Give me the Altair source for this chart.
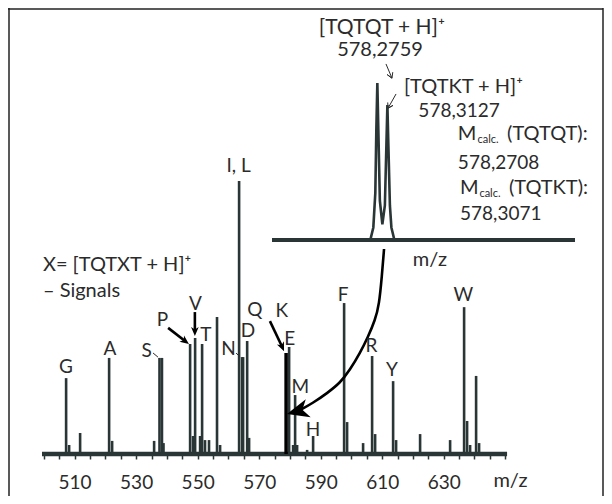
import altair as alt
import pandas as pd

DARK = "#2a3535"
TXT = "#2b2b2b"
FONT = "Lato"

# ---------------- main spectrum (m/z, relative intensity) ----------------
peak_mz = [507.24, 508.22, 511.79, 521.22, 522.2, 535.85, 537.6, 538.4, 538.9,
           547.55, 548.5, 549.18, 550.8, 551.45, 552.4, 553.7, 556.3, 557.3,
           563.48, 564.46, 564.78, 566.1, 566.73, 579.74, 581.04, 581.69,
           582.34, 585.59, 587.54, 597.62, 598.59, 603.79, 606.72, 607.7,
           613.55, 614.52, 622.32, 632.08, 636.63, 637.6, 638.58, 640.53, 641.5]
peak_int = [27.8, 3.3, 7.7, 35.2, 4.8, 4.8, 35.2, 35.2, 4.0,
            40.3, 6.6, 42.5, 6.6, 40.3, 5.1, 5.1, 50.2, 3.3,
            100.0, 35.5, 35.5, 41.4, 5.9, 39.2, 3.3, 21.6,
            3.3, 1.5, 6.6, 55.3, 11.7, 4.0, 35.9, 7.3,
            26.7, 5.1, 7.3, 5.1, 53.8, 12.1, 3.3, 28.6, 4.0]
q_mz = [578.76]
q_int = [37.0]

spec_start, spec_end = 499.4, 650.6
X_DOMAIN = [499.4, 681.46]
Y_DOMAIN = [0, 163.4]

tick_values = list(range(500, 651, 5))
tick_labels = [510, 530, 550, 570, 590, 610, 630]

# peak letters
lab_text = ["G", "A", "S", "P", "V", "T", "I, L", "N", "D", "Q", "K", "E", "M", "H", "F", "R", "Y", "W"]
lab_mz = [507.2, 521.5, 533.4, 538.6, 549.3, 552.7, 563.3, 560.0, 566.4, 568.6, 577.4, 579.9, 583.4, 587.5, 597.3, 606.5, 613.2, 636.4]
lab_int = [31.9, 38.5, 37.7, 49.1, 54.9, 43.6, 105.5, 38.6, 44.9, 52.6, 52.4, 42.1, 24.4, 8.8, 58.2, 39.4, 30.8, 58.2]

# small connector strokes (S, N)
conn_id = ["S", "S", "N", "N"]
conn_mz = [535.5, 537.1, 562.5, 563.8]
conn_int = [37.0, 35.5, 37.0, 35.5]

# thick arrows (P, V, K): shaft tail -> head centre
arr_id = ["P", "P", "V", "V", "K", "K"]
arr_mz = [540.4, 546.0, 549.1, 549.1, 573.5, 577.5]
arr_int = [46.2, 41.3, 52.0, 44.9, 48.7, 39.2]
head_mz = [546.0, 549.1, 577.5, 582.5]
head_int = [41.3, 44.9, 39.2, 15.7]
head_ang = [36.9, 90, 66.5, 164.8]
head_size = [81, 81, 81, 484]

# curved arrow from the inset to the Q/K peak
curve_mz = [610.6, 609.9, 609.0, 607.7, 605.4, 602.8, 599.5, 596.3, 592.1, 587.5, 583.3]
curve_int = [75.1, 65.2, 54.6, 49.1, 42.9, 37.0, 30.8, 26.0, 22.3, 18.7, 16.1]

# thin arrows inside the inset (tail, tip, wing, tip, wing)
thin_id = ["a"] * 5 + ["b"] * 5
thin_mz = [611.23, 613.18, 611.62, 613.18, 613.44, 614.5, 611.9, 613.5, 611.9, 611.8]
thin_int = [142.9, 137.7, 139.0, 137.7, 139.9, 131.9, 126.7, 127.7, 126.7, 128.8]

# centred annotation texts
ctext = ["[TQTQT + H]⁺", "578,2759", "[TQTKT + H]⁺", "578,3127", "m/z"]
ctext_mz = [609.9, 609.3, 636.4, 635.0, 625.5]
ctext_int = [156.0, 148.0, 134.3, 125.7, 71.1]
ctext_size = [21, 20, 20, 19, 20]

# left-aligned annotation texts
ltext = ["X= [TQTXT + H]⁺", "– Signals", "M", "(TQTQT):", "578,2708", "M", "(TQTKT):", "578,3071"]
ltext_mz = [499.7, 499.7, 634.6, 650.6, 634.6, 635.3, 651.2, 635.3]
ltext_int = [69.2, 59.7, 117.2, 117.2, 106.6, 97.4, 97.4, 87.9]
ltext_size = [20, 20, 20, 20, 19, 20, 20, 19]

sub_text = ["calc.", "calc."]
sub_mz = [641.0, 641.6]
sub_int = [114.9, 95.1]

# ---------------- inset (high resolution) ----------------
inset_mz = [577.89, 578.2501, 578.2612, 578.2685, 578.2722, 578.2759, 578.2796, 578.2851,
            578.2943, 578.3035, 578.3090, 578.3127, 578.3164, 578.3219, 578.3274, 578.3384, 579.0]
inset_int = [0, 0, 8, 30, 70, 100, 70, 25, 10, 22, 60, 86, 60, 22, 8, 0, 0]

# ---------------- build ----------------
xs = alt.Scale(domain=X_DOMAIN, nice=False, zero=False)
ys = alt.Scale(domain=Y_DOMAIN, nice=False, zero=False)

expr = f"indexof({tick_labels}, datum.value) >= 0 ? datum.label : ''"
main_axis = alt.Axis(values=tick_values, labelExpr=expr, format="d", domain=False,
                     ticks=True, tickSize=5, tickWidth=1.5, tickColor=DARK, grid=False,
                     labelFont=FONT, labelFontSize=19, labelColor=TXT, labelPadding=14,
                     labelOverlap=False, labelFlush=False,
                     title="m/z", titleFont=FONT, titleFontSize=20, titleFontWeight="normal",
                     titleColor=TXT, titleX=468, titleY=16, titleBaseline="top",
                     titleAlign="center", titleAngle=0)


def X(f):
    return alt.X(f, type="quantitative", scale=xs, axis=main_axis)


def Y(f):
    return alt.Y(f, type="quantitative", scale=ys, axis=None)


base_df = pd.DataFrame({"x": [spec_start], "x2": [spec_end], "y": [0]})
baseline = alt.Chart(base_df).mark_rule(color=DARK, strokeWidth=4.5).encode(
    x=X("x"), x2="x2", y=Y("y"))

pk = pd.DataFrame({"mz": peak_mz, "i": peak_int, "z": [0] * len(peak_mz)})
sticks = alt.Chart(pk).mark_rule(color=DARK, strokeWidth=2.6).encode(x=X("mz"), y=Y("z"), y2="i")

qk = pd.DataFrame({"mz": q_mz, "i": q_int, "z": [0]})
qstick = alt.Chart(qk).mark_rule(color="#000000", strokeWidth=3.5).encode(x=X("mz"), y=Y("z"), y2="i")

labs = alt.Chart(pd.DataFrame({"t": lab_text, "mz": lab_mz, "i": lab_int})).mark_text(
    font=FONT, fontSize=19, color=TXT, align="center", baseline="middle").encode(
    x=X("mz"), y=Y("i"), text="t")

conn = alt.Chart(pd.DataFrame({"g": conn_id, "mz": conn_mz, "i": conn_int})).mark_line(
    color=TXT, strokeWidth=1).encode(x=X("mz"), y=Y("i"), detail="g")

arrows = alt.Chart(pd.DataFrame({"g": arr_id, "mz": arr_mz, "i": arr_int})).mark_line(
    color="#000000", strokeWidth=2.6).encode(x=X("mz"), y=Y("i"), detail="g")

heads = alt.Chart(pd.DataFrame({"mz": head_mz, "i": head_int, "a": head_ang, "s": head_size})).mark_point(
    shape="M1,0L-1,-0.85L-0.45,0L-1,0.85Z", filled=True, color="#000000", opacity=1).encode(
    x=X("mz"), y=Y("i"), angle=alt.Angle("a:Q", scale=None), size=alt.Size("s:Q", scale=None))

curve = alt.Chart(pd.DataFrame({"mz": curve_mz, "i": curve_int, "o": list(range(len(curve_mz)))})).mark_line(
    color="#000000", strokeWidth=2.6, interpolate="basis").encode(x=X("mz"), y=Y("i"), order="o")

thin = alt.Chart(pd.DataFrame({"g": thin_id, "mz": thin_mz, "i": thin_int, "o": list(range(len(thin_mz)))})).mark_line(
    color=TXT, strokeWidth=1).encode(x=X("mz"), y=Y("i"), detail="g", order="o")

ct = alt.Chart(pd.DataFrame({"t": ctext, "mz": ctext_mz, "i": ctext_int, "s": ctext_size})).mark_text(
    font=FONT, color=TXT, align="center", baseline="middle").encode(
    x=X("mz"), y=Y("i"), text="t", size=alt.Size("s:Q", scale=None))

lt = alt.Chart(pd.DataFrame({"t": ltext, "mz": ltext_mz, "i": ltext_int, "s": ltext_size})).mark_text(
    font=FONT, color=TXT, align="left", baseline="middle").encode(
    x=X("mz"), y=Y("i"), text="t", size=alt.Size("s:Q", scale=None))

st = alt.Chart(pd.DataFrame({"t": sub_text, "mz": sub_mz, "i": sub_int})).mark_text(
    font=FONT, fontSize=11, color=TXT, align="left", baseline="middle").encode(
    x=X("mz"), y=Y("i"), text="t")

dummy = pd.DataFrame({"a": [0]})
frame_left = alt.Chart(dummy).mark_rule(color="#222222", strokeWidth=1.5).encode(
    x=alt.value(-33), y=alt.value(0), y2=alt.value(490))
frame_top = alt.Chart(dummy).mark_rule(color="#222222", strokeWidth=1.5).encode(
    x=alt.value(-34), x2=alt.value(561), y=alt.value(1))
frame_right = alt.Chart(dummy).mark_rule(color="#222222", strokeWidth=1.5).encode(
    x=alt.value(561), y=alt.value(0), y2=alt.value(490))

main = alt.layer(baseline, sticks, qstick, conn, arrows, heads, curve, thin,
                 labs, ct, lt, st, frame_left, frame_top, frame_right)

ixs = alt.Scale(domain=[577.89, 579.0], range=[230, 533], nice=False, zero=False)
iys = alt.Scale(domain=[0, 100], range=[232, 75], nice=False, zero=False)
ins_df = pd.DataFrame({"mz": inset_mz, "i": inset_int})
inset_base = alt.Chart(pd.DataFrame({"x": [inset_mz[0]], "x2": [inset_mz[-1]], "y": [0]})).mark_rule(
    color=DARK, strokeWidth=4).encode(
    x=alt.X("x:Q", scale=ixs, axis=None), x2="x2", y=alt.Y("y:Q", scale=iys, axis=None))
inset_line = alt.Chart(ins_df).mark_line(color=DARK, strokeWidth=2.6).encode(
    x=alt.X("mz:Q", scale=ixs, axis=None), y=alt.Y("i:Q", scale=iys, axis=None))
inset = alt.layer(inset_base, inset_line)

chart = alt.layer(main, inset).resolve_scale(x="independent", y="independent").properties(
    width=560, height=446, autosize=alt.AutoSizeParams(type="none"),
    padding={"left": 34, "top": 0, "right": 2, "bottom": 42},
    background="white",
).configure_view(stroke=None)

chart.save("out.html", embed_options={"renderer": "svg", "actions": False})
